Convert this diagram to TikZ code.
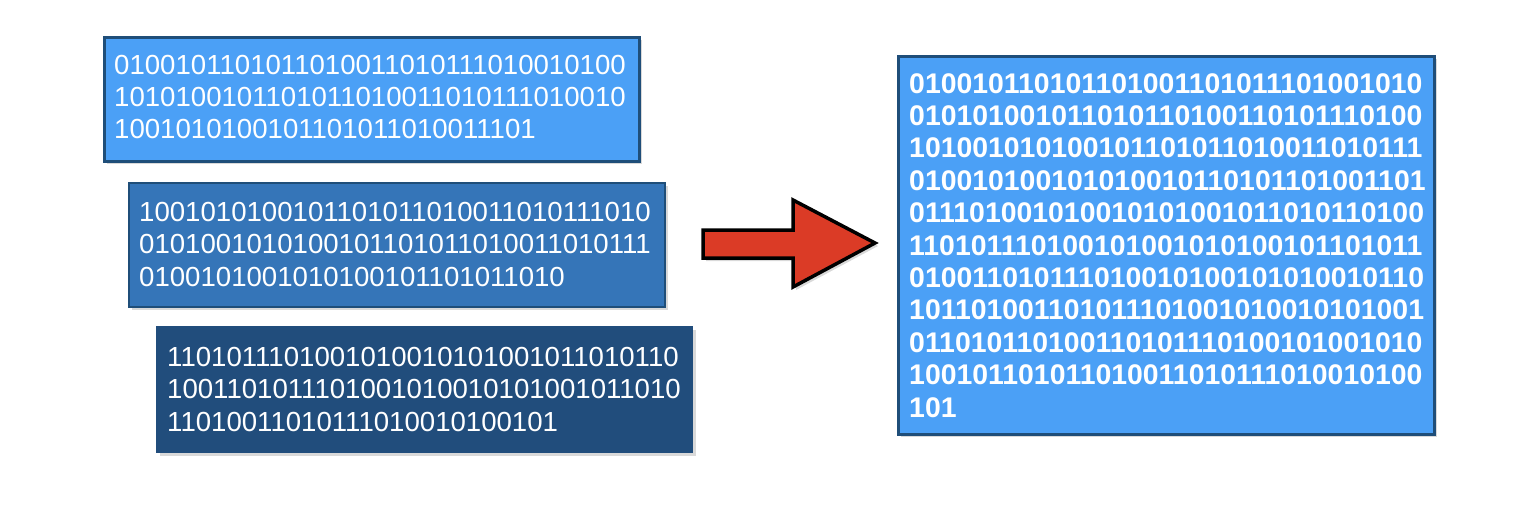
\documentclass[tikz,border=0pt]{standalone}
\usepackage{fontspec}
\setmainfont{Liberation Sans}
\usetikzlibrary{shadows}
\definecolor{lightblue}{RGB}{75,160,246}
\definecolor{midblue}{RGB}{53,117,184}
\definecolor{darkblue}{RGB}{33,77,124}
\definecolor{edgeblue}{RGB}{31,78,121}
\definecolor{arrowred}{RGB}{219,59,38}
\newcommand{\binrows}[1]{\vtop{\baselineskip=32.4pt\relax #1}}
\tikzset{
  databox/.style={rectangle, anchor=north west, inner sep=0pt, line width=2.5pt, draw=edgeblue,
    drop shadow={opacity=0.3, shadow xshift=3pt, shadow yshift=-3pt}},
  bintext/.style={anchor=base west, inner sep=0pt, text=white, font=\fontsize{27.6}{32.4}\selectfont},
  bigtext/.style={anchor=base west, inner sep=0pt, text=white, font=\fontsize{28.4}{32.4}\selectfont\bfseries},
}
\begin{document}
\begin{tikzpicture}[x=1pt,y=-1pt]
\useasboundingbox (0,0) rectangle (1534,504);
% source boxes
\node[databox, fill=lightblue, minimum width=535pt, minimum height=124pt] (b1) at (103,36) {};
\node[bintext] (t1) at (114,74) {\binrows{\hbox{0100101101011010011010111010010100}\hbox{1010100101101011010011010111010010}\hbox{1001010100101101011010011101}}};
\node[databox, fill=midblue, line width=2pt, minimum width=536pt, minimum height=124pt] (b2) at (128,182) {};
\node[bintext] (t2) at (139,221.4) {\binrows{\hbox{1001010100101101011010011010111010}\hbox{0101001010100101101011010011010111}\hbox{0100101001010100101101011010}}};
\node[databox, fill=darkblue, draw=darkblue, line width=1pt, minimum width=536pt, minimum height=126pt] (b3) at (156,326) {};
\node[bintext] (t3) at (167,366.4) {\binrows{\hbox{1101011101001010010101001011010110}\hbox{1001101011101001010010101001011010}\hbox{11010011010111010010100101}}};
% result box
\node[databox, fill=lightblue, minimum width=536pt, minimum height=378pt] (big) at (897,55) {};
\node[bigtext] (tb) at (909,93) {\binrows{%
\hbox{010010110101101001101011101001010}%
\hbox{010101001011010110100110101110100}%
\hbox{101001010100101101011010011010111}%
\hbox{010010100101010010110101101001101}%
\hbox{011101001010010101001011010110100}%
\hbox{110101110100101001010100101101011}%
\hbox{010011010111010010100101010010110}%
\hbox{101101001101011101001010010101001}%
\hbox{011010110100110101110100101001010}%
\hbox{100101101011010011010111010010100}%
\hbox{101}}};
% arrow
\draw[fill=arrowred, draw=black, line width=3.5pt, line join=miter,
  drop shadow={opacity=0.3, shadow xshift=3pt, shadow yshift=-3pt}]
  (703,230) -- (793,230) -- (793,200) -- (875,243) -- (793,287) -- (793,258) -- (703,258) -- cycle;
\end{tikzpicture}
\end{document}
